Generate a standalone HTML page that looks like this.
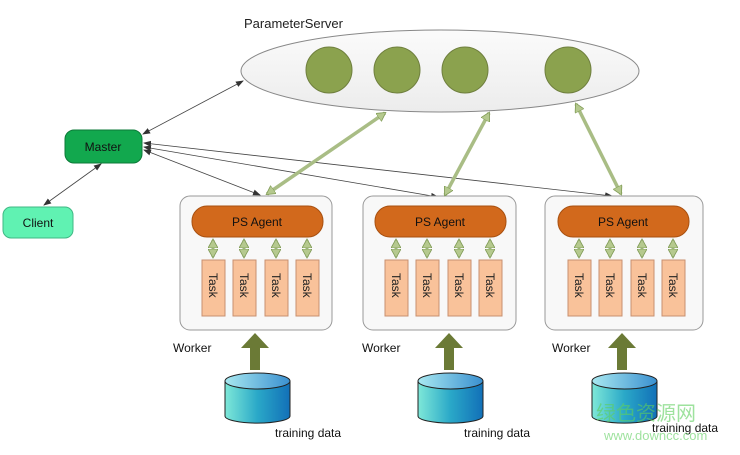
<!DOCTYPE html>
<html><head><meta charset="utf-8"><style>
html,body{margin:0;padding:0;background:#fff;}
svg{display:block;font-family:"Liberation Sans",sans-serif;}
</style></head><body>
<svg width="740" height="455" viewBox="0 0 740 455" xmlns="http://www.w3.org/2000/svg">
<defs>
<marker id="a" markerWidth="8" markerHeight="6" refX="7" refY="3" orient="auto-start-reverse" markerUnits="userSpaceOnUse"><path d="M0,0 L8,3 L0,6 z" fill="#333"/></marker>
<marker id="g" markerWidth="10" markerHeight="10" refX="8" refY="5" orient="auto-start-reverse" markerUnits="userSpaceOnUse"><path d="M0,0 L9,5 L0,10 z" fill="#b5c98e" stroke="#7f9a55" stroke-width="0.8"/></marker>
<linearGradient id="cyl" x1="0" x2="1"><stop offset="0" stop-color="#7ee8d8"/><stop offset="0.5" stop-color="#2aa8c8"/><stop offset="1" stop-color="#1270b8"/></linearGradient>
<linearGradient id="cyt" x1="0" x2="1"><stop offset="0" stop-color="#a8e8f0"/><stop offset="1" stop-color="#3a90d0"/></linearGradient>
<linearGradient id="ell" x1="0" y1="0" x2="0" y2="1"><stop offset="0" stop-color="#fbfbfb"/><stop offset="1" stop-color="#ececec"/></linearGradient>
</defs>
<text x="244" y="28" font-size="13" fill="#222">ParameterServer</text>
<ellipse cx="440" cy="71" rx="199" ry="41" fill="url(#ell)" stroke="#888" stroke-width="1"/>
<g fill="#8ba24e" stroke="#6f7f3e">
<circle cx="329" cy="70" r="23"/><circle cx="397" cy="70" r="23"/><circle cx="465" cy="70" r="23"/><circle cx="568" cy="70" r="23"/>
</g>
<rect x="65" y="130" width="77" height="33" rx="9" fill="#12a84e" stroke="#0c7a38"/>
<text x="103" y="151" font-size="12" text-anchor="middle" fill="#111">Master</text>
<rect x="3" y="207" width="70" height="31" rx="8" fill="#60f2b2" stroke="#3fb884"/>
<text x="38" y="227" font-size="12" text-anchor="middle" fill="#111">Client</text>
<g stroke="#444" stroke-width="0.8" fill="none" marker-start="url(#a)" marker-end="url(#a)">
<line x1="143" y1="134" x2="243" y2="81"/>
<line x1="44" y1="205" x2="101" y2="164"/>
<line x1="144" y1="150" x2="260" y2="195"/>
<line x1="144" y1="147" x2="438" y2="197"/>
<line x1="144" y1="143" x2="612" y2="196"/>
</g>
<g fill="#f8f8f8" stroke="#999">
<rect x="180" y="196" width="152" height="134" rx="10"/>
<rect x="363" y="196" width="153" height="134" rx="10"/>
<rect x="545" y="196" width="158" height="134" rx="10"/>
</g>
<g id="w">
<rect x="192" y="206" width="131" height="31" rx="15" fill="#d2691c" stroke="#a85010"/>
<text x="257" y="226" font-size="12" text-anchor="middle" fill="#111">PS Agent</text>
<g fill="#f9c29a" stroke="#c89070">
<rect x="202" y="260" width="23" height="56"/><rect x="233" y="260" width="23" height="56"/><rect x="265" y="260" width="23" height="56"/><rect x="296" y="260" width="23" height="56"/>
</g>
<g font-size="12" fill="#222">
<text transform="translate(209,273) rotate(90)">Task</text><text transform="translate(240,273) rotate(90)">Task</text><text transform="translate(272,273) rotate(90)">Task</text><text transform="translate(303,273) rotate(90)">Task</text>
</g>
<g stroke="#9cb57a" stroke-width="3" marker-start="url(#g)" marker-end="url(#g)">
<line x1="213" y1="240" x2="213" y2="257"/><line x1="244" y1="240" x2="244" y2="257"/><line x1="276" y1="240" x2="276" y2="257"/><line x1="307" y1="240" x2="307" y2="257"/>
</g>
</g>
<use href="#w" x="183"/>
<use href="#w" x="366"/>
<g font-size="12" fill="#111">
<text x="173" y="352">Worker</text><text x="362" y="352">Worker</text><text x="552" y="352">Worker</text>
</g>
<g fill="#6b7a36">
<path d="M250,370 h10 v-22 h9 l-14,-15 l-14,15 h9 z"/>
<path d="M444,370 h10 v-22 h9 l-14,-15 l-14,15 h9 z"/>
<path d="M617,370 h10 v-22 h9 l-14,-15 l-14,15 h9 z"/>
</g>
<g id="c" stroke="#222" stroke-width="1">
<path d="M225,381 v35 a32,7 0 0 0 65,0 v-35" fill="url(#cyl)"/>
<ellipse cx="257.5" cy="381" rx="32.5" ry="8" fill="url(#cyt)"/>
</g>
<use href="#c" x="193"/>
<use href="#c" x="367"/>
<g font-size="12" fill="#111">
<text x="275" y="437">training data</text><text x="464" y="437">training data</text><text x="652" y="432">training data</text>
</g>
<g stroke="#a9bd85" stroke-width="3.5" marker-start="url(#g)" marker-end="url(#g)">
<line x1="267" y1="194" x2="385" y2="113"/>
<line x1="445" y1="195" x2="489" y2="113"/>
<line x1="621" y1="194" x2="576" y2="104"/>
</g>
<text x="596" y="420" font-size="20" fill="#5ecf5e" opacity="0.6" font-family="'Noto Sans CJK SC',sans-serif">绿色资源网</text>
<text x="604" y="440" font-size="13" fill="#5ecf5e" opacity="0.6">www.downcc.com</text>
</svg>
</body></html>
